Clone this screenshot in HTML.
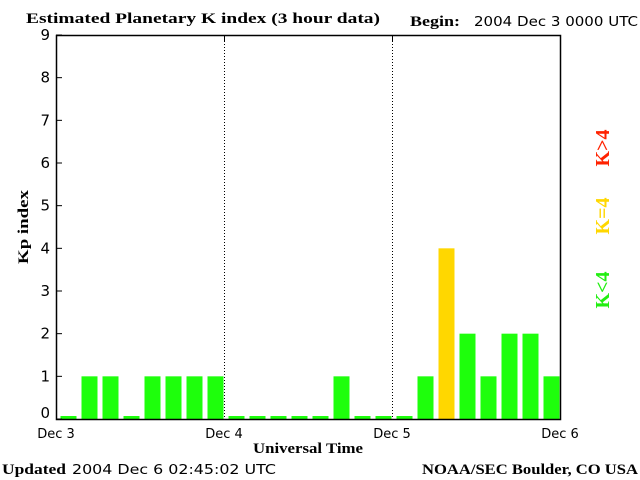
<!DOCTYPE html>
<html><head><meta charset="utf-8"><style>
html,body{margin:0;padding:0;background:#fff;}
svg{display:block;}
.t{font-family:"Liberation Serif",serif;font-weight:bold;font-size:15px;}
.s{font-family:"DejaVu Sans","Liberation Sans",sans-serif;font-size:13px;}
</style></head><body>
<svg id="chart" width="640" height="480" xmlns="http://www.w3.org/2000/svg">
<text class="t" x="26" y="23" textLength="354" lengthAdjust="spacingAndGlyphs">Estimated Planetary K index (3 hour data)</text>
<text class="t" x="410" y="26" textLength="50" lengthAdjust="spacingAndGlyphs">Begin:</text>
<text class="s" x="474" y="26" textLength="164" lengthAdjust="spacingAndGlyphs">2004 Dec 3 0000 UTC</text>
<g id="plot"></g>
<text class="t" x="0" y="0" transform="translate(28,227) rotate(-90)" text-anchor="middle" textLength="74" lengthAdjust="spacingAndGlyphs">Kp index</text>
<text class="t" x="253" y="453" textLength="110" lengthAdjust="spacingAndGlyphs">Universal Time</text>
<text class="t" x="2" y="474" textLength="64" lengthAdjust="spacingAndGlyphs">Updated</text>
<text class="s" x="72" y="474" textLength="204" lengthAdjust="spacingAndGlyphs">2004 Dec  6 02:45:02 UTC</text>
<text class="t" x="422" y="474" textLength="216" lengthAdjust="spacingAndGlyphs">NOAA/SEC Boulder, CO USA</text>
<text class="t" style="font-size:20px" fill="#ff2200" transform="translate(609,148) rotate(-90)" text-anchor="middle">K&gt;4</text>
<text class="t" style="font-size:20px" fill="#ffd700" transform="translate(609,216) rotate(-90)" text-anchor="middle">K=4</text>
<text class="t" style="font-size:20px" fill="#22ee11" transform="translate(609,290) rotate(-90)" text-anchor="middle">K&lt;4</text>
</svg>
<script>
const kpValues=[0,1,1,0,1,1,1,1, 0,0,0,0,0,1,0,0, 0,1,4,2,1,2,2,1];
const dayLabels=["Dec 3","Dec 4","Dec 5","Dec 6"];
const yTicks=[0,1,2,3,4,5,6,7,8,9];
const NS="http://www.w3.org/2000/svg";
const L=56,R=560,T=35,B=419,YMAX=9;
const nBars=kpValues.length;
const slot=(R-L)/nBars;
const xScale=i=>L+i*slot;
const yScale=v=>B-v*(B-T)/YMAX;
const g=document.getElementById('plot');
function mk(tag,attrs){const e=document.createElementNS(NS,tag);for(const k in attrs)e.setAttribute(k,attrs[k]);g.appendChild(e);return e;}
kpValues.forEach((v,i)=>{
  const col=v>4?'#ff2200':(v===4?'#ffd700':'#1eff0c');
  const top=v===0?B-3:yScale(v);
  const r=mk('rect',{x:xScale(i)+4.5,y:top,width:slot-5,height:B-top,fill:col});
  
  
});
for(let d=1;d<dayLabels.length-1;d++){
  const x=xScale(d*8)+0.5;
  const l=mk('line',{x1:x,y1:T,x2:x,y2:B,stroke:'#000','stroke-dasharray':'1,2'});
  
  
  const t=mk('line',{x1:x,y1:T,x2:x,y2:T+6,stroke:'#000'});
  
  
}
dayLabels.forEach((lab,d)=>{
  const t=mk('text',{x:xScale(d*8),y:438,'text-anchor':'middle',class:'s'});
  t.textContent=lab;
  
  
});
yTicks.forEach(v=>{
  const y=yScale(v);
  const tk=mk('line',{x1:L,y1:y,x2:L+6,y2:y,stroke:'#000'});
  
  
  const t=mk('text',{x:L-6,y:Math.min(y+5,B-1),'text-anchor':'end',class:'s',style:'font-size:15px'});
  t.textContent=v;
  
  
});
const f=mk('rect',{x:L+0.5,y:T+0.5,width:R-L,height:B-T,fill:'none',stroke:'#000','stroke-width':1.5});


</script>
</body></html>
